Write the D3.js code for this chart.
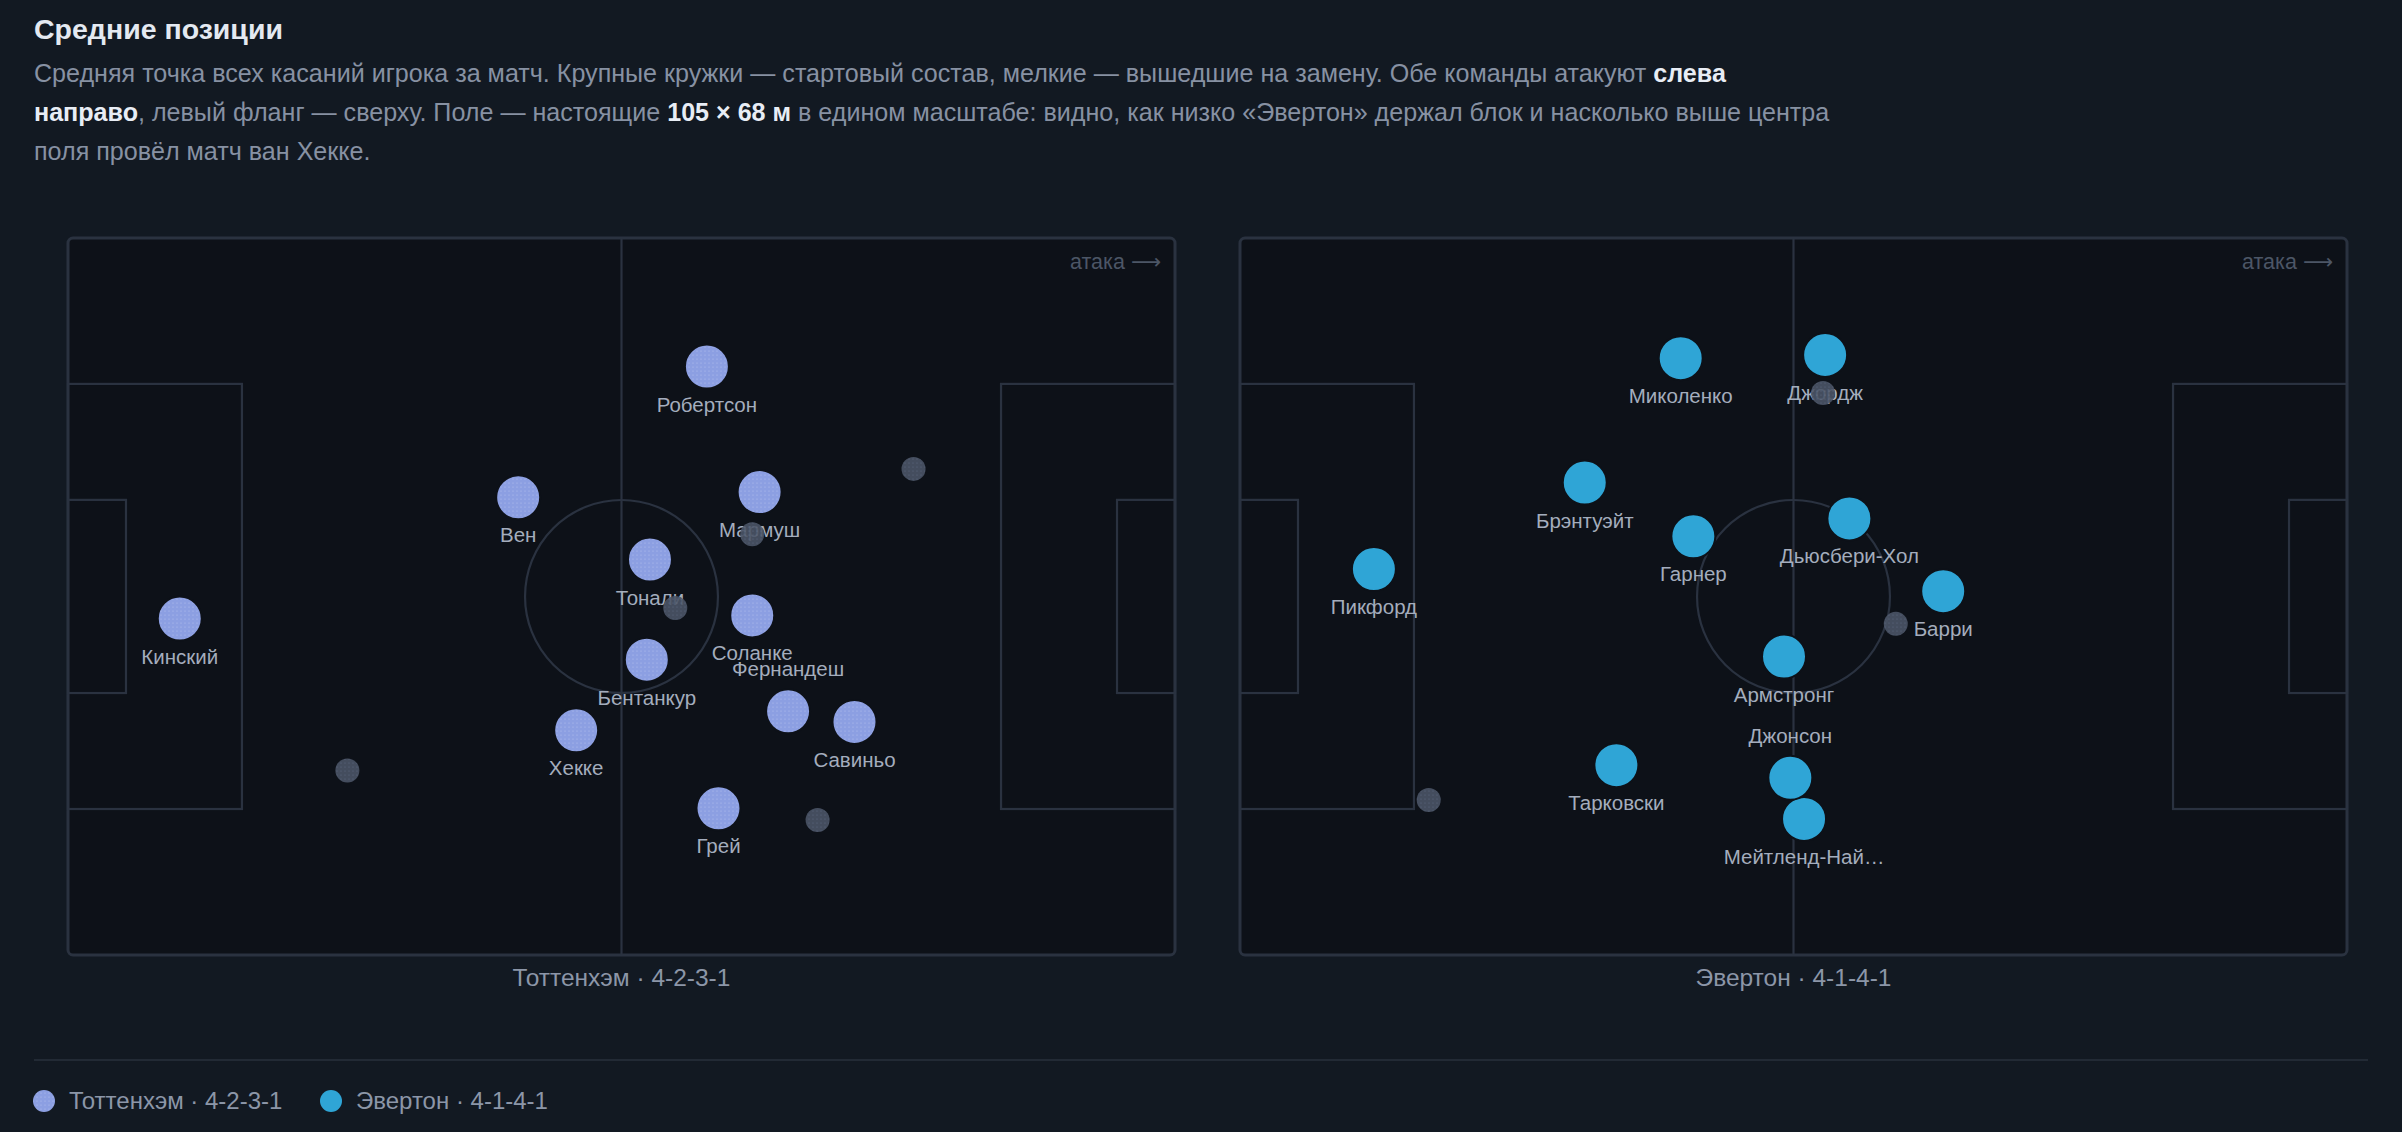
<!DOCTYPE html>
<html><head><meta charset="utf-8">
<script src="https://cdn.jsdelivr.net/npm/d3@7"></script>
<style>
html,body{margin:0;padding:0;background:#121922;}
svg{display:block;font-family:"Liberation Sans",Arial,Helvetica,sans-serif;}
</style></head>
<body>
<svg id="chart" width="2402" height="1132"></svg>
<script>
// ---------- data (metres on a 105 x 68 pitch, attack left → right) ----------
const teams = ["Тоттенхэм · 4-2-3-1", "Эвертон · 4-1-4-1"];
const teamColors = ["#8c9fe2", "#2fa5d6"];

const spursNames = ["Кинский","Вен","Робертсон","Тонали","Мармуш","Соланке","Бентанкур","Хекке","Савиньо","Фернандеш","Грей"];
const spursX     = [10.6, 42.7, 60.6, 55.2, 65.6, 64.9, 54.9, 48.2, 74.6, 68.3, 61.7];
const spursY     = [36.1, 24.6, 12.2, 30.5, 24.1, 35.8, 40.0, 46.7, 45.9, 44.9, 54.1];
const spursSubX  = [80.2, 64.9, 57.6, 26.5, 71.1];
const spursSubY  = [21.9, 28.1, 35.1, 50.5, 55.2];

const evertonNames = ["Пикфорд","Миколенко","Джордж","Брэнтуэйт","Гарнер","Дьюсбери-Хол","Барри","Армстронг","Тарковски","Мейтленд-Найлз","Джонсон"];
const evertonX     = [12.7, 41.8, 55.5, 32.7, 43.0, 57.8, 66.7, 51.6, 35.7, 53.5, 52.2];
const evertonY     = [31.4, 11.4, 11.1, 23.2, 28.3, 26.6, 33.5, 39.7, 50.0, 55.1, 51.2];
const evertonSubX  = [55.3, 62.2, 17.9];
const evertonSubY  = [14.7, 36.6, 53.3];

const labelsAbove = ["Фернандеш","Джонсон"];

// ---------- layout ----------
const svg = d3.select("#chart");
const PW = 1107, PH = PW * 68 / 105;
const pitchX = [68, 1240], pitchY = 238;
const bg = "#121922", pitchFill = "#0d1118", lineCol = "#2a3240";

svg.append("rect").attr("width",2402).attr("height",1132).attr("fill",bg);

const defs = svg.append("defs");
function dotPattern(id, base, dot){
  const p = defs.append("pattern").attr("id",id).attr("patternUnits","userSpaceOnUse")
    .attr("width",4).attr("height",4);
  p.append("rect").attr("width",4).attr("height",4).attr("fill",base);
  p.append("circle").attr("cx",1).attr("cy",1).attr("r",0.6).attr("fill",dot);
}
dotPattern("subPat", "#4a5466", "#66718a");
dotPattern("spursPat", "#8c9fe2", "#b4c2f0");

// title & subtitle
svg.append("text").attr("x",34).attr("y",39).attr("fill","#e4e9f1")
  .attr("font-size",28.5).attr("font-weight",700).text("Средние позиции");

const sub = svg.append("text").attr("x",34).attr("font-size",25.1).attr("fill","#8791a3");
const lines = [
  [["Средняя точка всех касаний игрока за матч. Крупные кружки — стартовый состав, мелкие — вышедшие на замену. Обе команды атакуют ",0],["слева",1]],
  [["направо",1],[", левый фланг — сверху. Поле — настоящие ",0],["105 × 68 м",1],[" в едином масштабе: видно, как низко «Эвертон» держал блок и насколько выше центра",0]],
  [["поля провёл матч ван Хекке.",0]]
];
lines.forEach((ln,i)=>{
  ln.forEach((seg,j)=>{
    const t = sub.append("tspan").text(seg[0]);
    if(j===0) t.attr("x",34).attr("y",82 + i*39);
    if(seg[1]) t.attr("font-weight",700).attr("fill","#e8edf5");
  });
});

const x = d3.scaleLinear().domain([0,105]).range([0,PW]);
const y = d3.scaleLinear().domain([0,68]).range([0,PH]);

function drawPitch(ti, names, xs, ys, subX, subY){
  const g = svg.append("g").attr("transform",`translate(${pitchX[ti]},${pitchY})`);
  g.append("rect").attr("x",0).attr("y",0).attr("width",PW).attr("height",PH)
    .attr("rx",5).attr("fill",pitchFill).attr("stroke",lineCol).attr("stroke-width",3);
  const L = g.append("g").attr("fill","none").attr("stroke",lineCol).attr("stroke-width",2.2);
  L.append("line").attr("x1",x(52.5)).attr("x2",x(52.5)).attr("y1",0).attr("y2",PH);
  L.append("circle").attr("cx",x(52.5)).attr("cy",y(34)).attr("r",x(9.15));
  [[16.5,40.32],[5.5,18.32]].forEach(([d,w])=>{
    L.append("rect").attr("x",x(0)).attr("y",y(34-w/2)).attr("width",x(d)).attr("height",y(w));
    L.append("rect").attr("x",x(105-d)).attr("y",y(34-w/2)).attr("width",x(d)).attr("height",y(w));
  });
  const at = g.append("text").attr("x",PW-14).attr("y",31).attr("text-anchor","end")
    .attr("font-size",21.5).attr("fill","#4c5666");
  at.append("tspan").text("атака ");
  at.append("tspan").attr("font-family","'DejaVu Sans',sans-serif").attr("font-size",21).text("⟶");

  const col = teamColors[ti];
  const fill = ti===0 ? "url(#spursPat)" : col;
  const players = names.map((n,i)=>({n, x:xs[i], y:ys[i]}));
  g.append("g").selectAll("circle").data(players).join("circle")
    .attr("cx",d=>x(d.x)).attr("cy",d=>y(d.y)).attr("r",22)
    .attr("fill",fill).attr("stroke",pitchFill).attr("stroke-width",2);
  g.append("g").selectAll("text").data(players).join("text")
    .attr("x",d=>x(d.x))
    .attr("y",d=>labelsAbove.includes(d.n) ? y(d.y)-35 : y(d.y)+45)
    .attr("text-anchor","middle").attr("font-size",20.5).attr("fill","#a4adbd")
    .text(d=>d.n.length>13 ? d.n.slice(0,12)+"…" : d.n);
  const subs = subX.map((v,i)=>({x:v, y:subY[i]}));
  g.append("g").selectAll("circle").data(subs).join("circle")
    .attr("cx",d=>x(d.x)).attr("cy",d=>y(d.y)).attr("r",12)
    .attr("fill","url(#subPat)").attr("opacity",0.9);

  svg.append("text").attr("x",pitchX[ti]+PW/2).attr("y",pitchY+PH+31)
    .attr("text-anchor","middle").attr("font-size",24.5).attr("fill","#8c96a8").text(teams[ti]);
}
drawPitch(0, spursNames, spursX, spursY, spursSubX, spursSubY);
drawPitch(1, evertonNames, evertonX, evertonY, evertonSubX, evertonSubY);

// legend
svg.append("line").attr("x1",34).attr("x2",2368).attr("y1",1060).attr("y2",1060)
  .attr("stroke","#222a35").attr("stroke-width",2);
const lg = svg.append("g");
const lx = [44, 331];
teams.forEach((t,i)=>{
  lg.append("circle").attr("cx",lx[i]).attr("cy",1101).attr("r",11)
    .attr("fill", i===0 ? "url(#spursPat)" : teamColors[i]);
  lg.append("text").attr("x",lx[i]+25).attr("y",1109).attr("font-size",24).attr("fill","#8c96a8").text(t);
});
</script>
</body></html>
